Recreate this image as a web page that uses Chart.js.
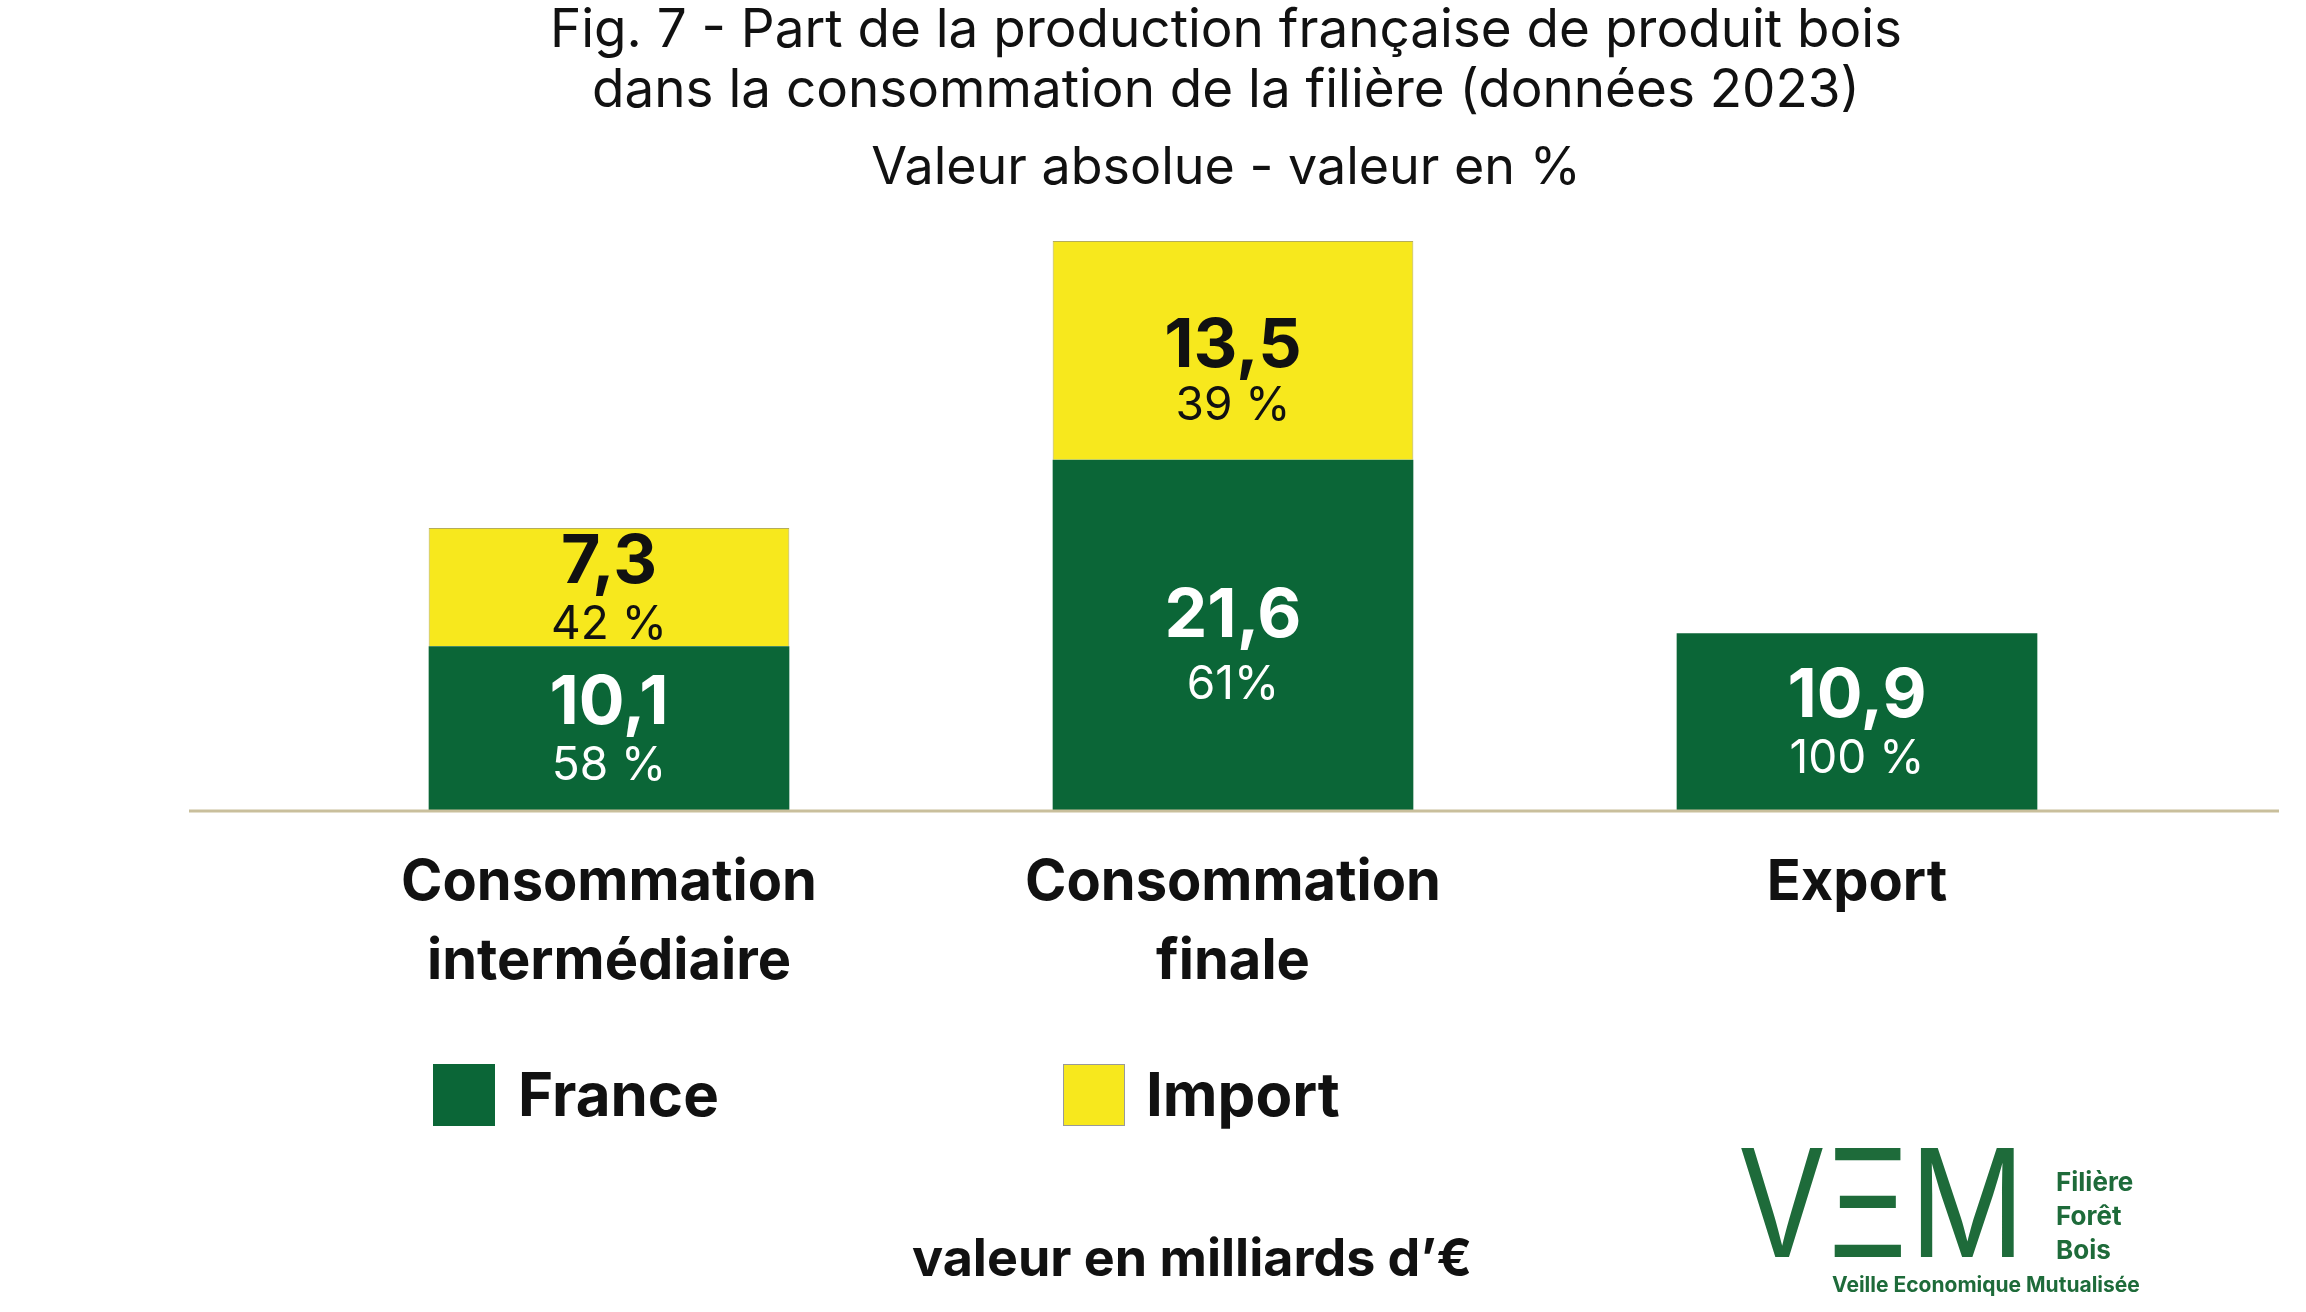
<!DOCTYPE html>
<html><head><meta charset="utf-8">
<script src="https://cdn.jsdelivr.net/npm/chart.js@4.4.0/dist/chart.umd.min.js"></script>
<style>
body{margin:0;background:#fff;font-family:Inter,"Open Sans",sans-serif;}
#wrap{position:relative;width:2306px;height:1312px;}
canvas{position:absolute;left:0;top:0;}
.t{position:absolute;left:0;width:2452px;text-align:center;color:#111;}
.leg{position:absolute;font-weight:700;font-size:60px;color:#111;}
.box{position:absolute;width:62px;height:62px;}
</style></head><body>
<div id="wrap">
<canvas id="c" width="2306" height="1312"></canvas>
<div class="t" style="top:-2px;font-size:53px;line-height:60px">Fig. 7 - Part de la production française de produit bois<br>dans la consommation de la filière (données 2023)</div>
<div class="t" style="top:134px;font-size:52px">Valeur absolue - valeur en %</div>
<div class="box" style="left:433px;top:1064px;background:#0b6637"></div>
<div class="leg" style="left:518px;top:1058px">France</div>
<div class="box" style="left:1063px;top:1064px;background:#f7e81d;border:1px solid #999;box-sizing:border-box"></div>
<div class="leg" style="left:1146px;top:1058px">Import</div>
<div class="leg" style="left:912px;top:1226px;font-size:52px">valeur en milliards d’€</div>
<div style="position:absolute;left:1738px;top:1128px;font-weight:400;color:#1e6b3a;font-size:150px;line-height:150px;transform:scaleX(0.85);transform-origin:left">VΞM</div>
<div style="position:absolute;left:2056px;top:1165px;font-weight:700;color:#1e6b3a;font-size:26px;line-height:34px">Filière<br>Forêt<br>Bois</div>
<div style="position:absolute;left:1832px;top:1272px;font-weight:700;color:#1e6b3a;font-size:21px">Veille Economique Mutualisée</div>
</div>
<script>
const categories = [['Consommation','intermédiaire'], ['Consommation','finale'], ['Export']];
const franceValues = [10.1, 21.6, 10.9];
const importValues = [7.3, 13.5, 0];
const francePct = ['58 %', '61%', '100 %'];
const importPct = ['42 %', '39 %', ''];

const labelsPlugin = {
  id: 'labels',
  afterDatasetsDraw(chart) {
    const ctx = chart.ctx;
    const xs = chart.scales.x;
    ctx.save();
    ctx.strokeStyle = '#c9bf9c'; ctx.lineWidth = 3;
    ctx.beginPath(); ctx.moveTo(189, chart.chartArea.bottom + 1); ctx.lineTo(2279, chart.chartArea.bottom + 1); ctx.stroke();
    ctx.textAlign = 'center'; ctx.textBaseline = 'middle';
    chart.data.datasets.forEach((ds, di) => {
      const meta = chart.getDatasetMeta(di);
      meta.data.forEach((bar, i) => {
        const v = ds.data[i];
        if (!v) return;
        const mid = (bar.y + bar.base) / 2;
        const tall = Math.abs(bar.base - bar.y) > 200;
        const vOff = tall ? (di === 1 ? -4 : -18) : -25;
        const pOff = tall ? (di === 1 ? 56 : 50) : 38;
        ctx.fillStyle = di === 0 ? '#fff' : '#111';
        ctx.font = '700 68px Inter, "Open Sans", sans-serif';
        ctx.fillText(String(v).replace('.', ','), bar.x, mid + vOff);
        ctx.font = '400 46px Inter, "Open Sans", sans-serif';
        ctx.fillText(di === 0 ? francePct[i] : importPct[i], bar.x, mid + pOff);
      });
    });
    ctx.fillStyle = '#111';
    ctx.font = '700 56px Inter, "Open Sans", sans-serif';
    categories.forEach((lines, i) => {
      const x = xs.getPixelForValue(i);
      lines.forEach((l, j) => ctx.fillText(l, x, 883 + j * 79));
    });
    ctx.restore();
  }
};

new Chart(document.getElementById('c'), {
  type: 'bar',
  data: {
    labels: categories.map(c => c.join(' ')),
    datasets: [
      { label: 'France', data: franceValues, backgroundColor: '#0b6637' },
      { label: 'Import', data: importValues, backgroundColor: '#f7e81d', borderColor: '#b5ad5a', borderWidth: 1 }
    ]
  },
  options: {
    responsive: false,
    animation: false,
    layout: { padding: { left: 297, right: 137, top: 241, bottom: 502 } },
    plugins: { legend: { display: false }, tooltip: { enabled: false } },
    datasets: { bar: { barPercentage: 0.578, categoryPercentage: 1 } },
    scales: {
      x: { stacked: true, display: false },
      y: { stacked: true, display: false, min: 0, max: 35.1 }
    }
  },
  plugins: [labelsPlugin]
});
</script>
</body></html>
